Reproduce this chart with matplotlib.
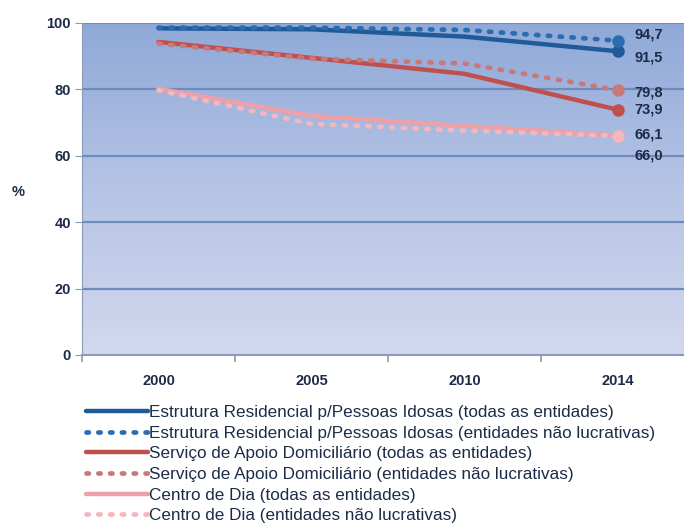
import numpy as np
import matplotlib.pyplot as plt
from matplotlib.colors import LinearSegmentedColormap

plt.rcParams['font.family'] = ['Liberation Sans', 'DejaVu Sans']

anos = ['2000', '2005', '2010', '2014']

er_todas = [98.4, 98.1, 95.9, 91.5]
er_nao_lucrativas = [98.6, 98.6, 97.9, 94.7]
sad_todas = [94.3, 89.5, 84.7, 73.9]
sad_nao_lucrativas = [93.8, 89.3, 87.8, 79.8]
cd_todas = [80.2, 72.0, 69.0, 66.1]
cd_nao_lucrativas = [79.7, 69.6, 67.6, 66.0]

nomes = [
    'Estrutura Residencial p/Pessoas Idosas (todas as entidades)',
    'Estrutura Residencial p/Pessoas Idosas (entidades não lucrativas)',
    'Serviço de Apoio Domiciliário (todas as entidades)',
    'Serviço de Apoio Domiciliário (entidades não lucrativas)',
    'Centro de Dia (todas as entidades)',
    'Centro de Dia (entidades não lucrativas)',
]

series = [er_todas, er_nao_lucrativas, sad_todas, sad_nao_lucrativas,
          cd_todas, cd_nao_lucrativas]
cores = ['#1f5a99', '#2c6cb0', '#c0504d', '#c9787a', '#eea0a8', '#f2b7bf']
estilos = ['-', ':', '-', ':', '-', ':']
# deslocamento vertical (em unidades de y) dos rótulos finais
desloc = [-2.0, 1.7, -0.1, -0.6, 0.2, -5.8]

texto = '#1c2c48'

fig = plt.figure(figsize=(6.84, 5.26), dpi=100)
ax = fig.add_axes([82 / 684, 1 - 355 / 526, (694 - 82) / 684, (355 - 23) / 526])

x = np.arange(len(anos))
ax.set_xlim(-0.5, len(anos) - 0.5)
ax.set_ylim(0, 100)

# fundo em degradê azul
grad = np.linspace(0, 1, 256).reshape(-1, 1)
cmap = LinearSegmentedColormap.from_list('fundo', ['#d2d8ee', '#b6c4e5', '#8fa9d8'])
ax.imshow(grad, extent=[-0.5, len(anos) - 0.5, 0, 100], origin='lower',
          aspect='auto', cmap=cmap, zorder=0)

for v in [20, 40, 60, 80, 100]:
    ax.axhline(v, color='#6d8cbd', lw=1.6, zorder=1)

handles = []
for s, c, ls, nome in zip(series, cores, estilos, nomes):
    if ls == ':':
        h, = ax.plot(x, s, color=c, lw=3.4, linestyle=(0, (0.5, 2.0)),
                     dash_capstyle='round', zorder=3, label=nome)
    else:
        h, = ax.plot(x, s, color=c, lw=3.2, solid_capstyle='round', zorder=3, label=nome)
    ax.plot(x[-1], s[-1], 'o', color=c, ms=8, zorder=4)
    handles.append(h)

for s, d in zip(series, desloc):
    ax.annotate(f'{s[-1]:.1f}'.replace('.', ','), (x[-1], s[-1] + d),
                xytext=(12, 0), textcoords='offset points', va='center',
                ha='left', fontsize=10.5, fontweight='bold', color=texto)

for lado in ['top', 'right']:
    ax.spines[lado].set_visible(False)
ax.spines['left'].set_color('#8a9ab8')
ax.spines['bottom'].set_color('#8a9ab8')
ax.spines['bottom'].set_linewidth(1.5)

ax.set_xticks(x)
ax.set_xticklabels(anos, fontsize=10.5, fontweight='bold', color=texto)
ax.set_xticks(np.arange(-0.5, len(anos)), minor=True)
ax.tick_params(axis='x', which='major', length=0, pad=14)
ax.tick_params(axis='x', which='minor', length=5, color='#8a9ab8', width=1.2)
ax.set_yticks([0, 20, 40, 60, 80, 100])
ax.tick_params(axis='y', length=5, color='#8a9ab8', labelsize=10.5, labelcolor=texto, pad=3)
for t in ax.get_yticklabels():
    t.set_fontweight('bold')

fig.text(18 / 684, 1 - 192 / 526, '%', fontsize=10.5, fontweight='bold',
         color=texto, ha='center', va='center')

leg = fig.legend(handles=handles, loc='upper left', bbox_to_anchor=(86 / 684, 1 - 405 / 526),
                 frameon=False, fontsize=12.3, handlelength=3.6, handletextpad=0.1,
                 labelspacing=0.33, borderaxespad=0, borderpad=0)
for t in leg.get_texts():
    t.set_color(texto)

fig.savefig('out.png', dpi=100, facecolor='white')
